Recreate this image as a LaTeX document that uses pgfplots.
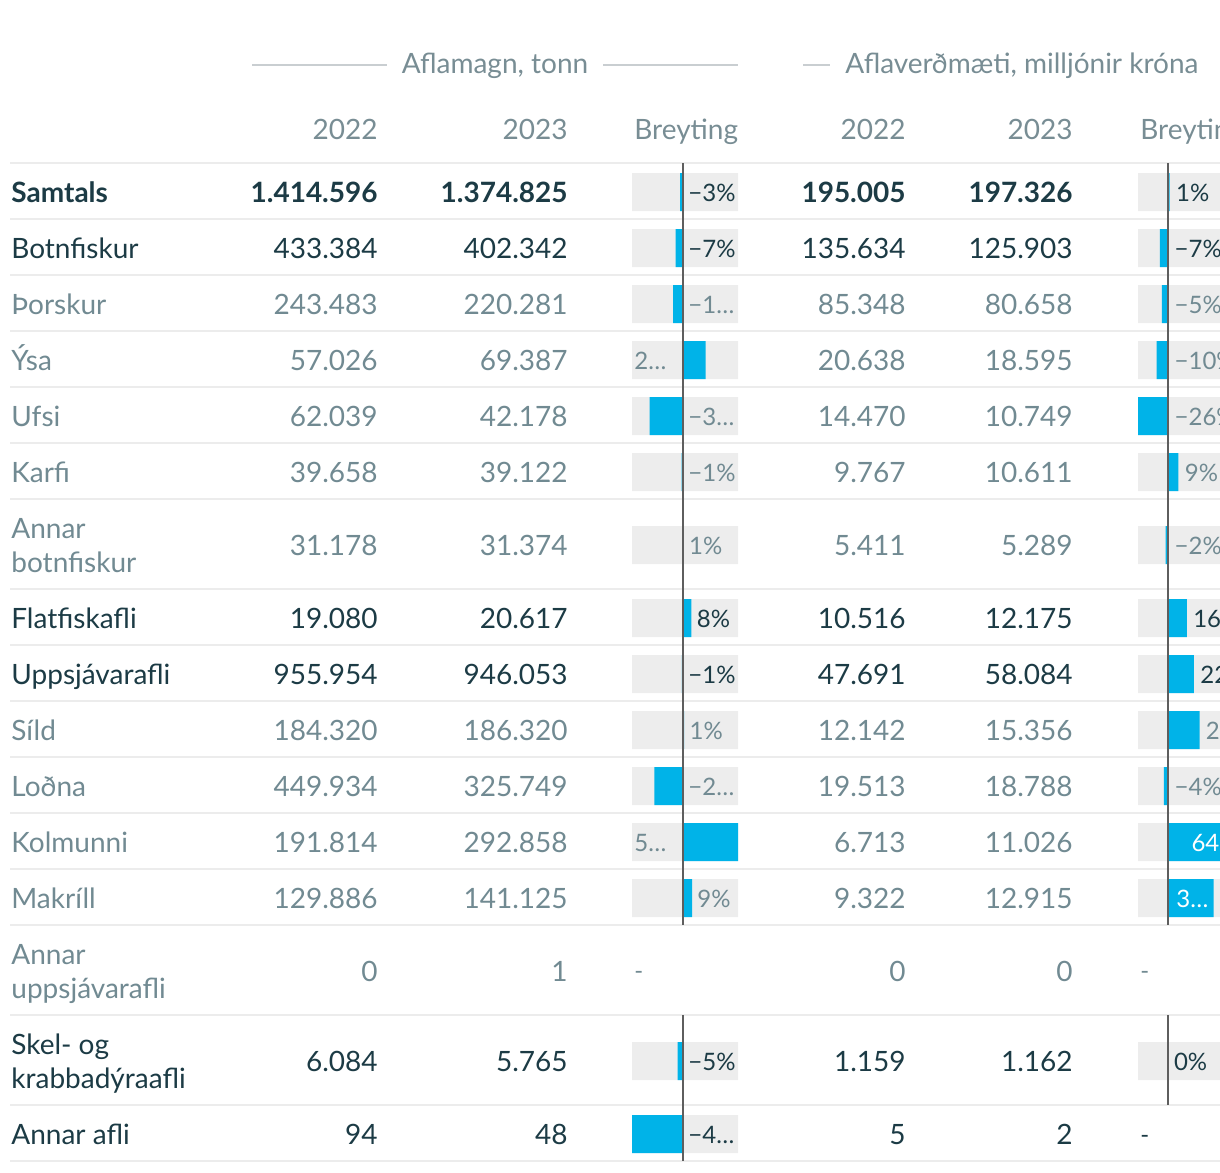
\documentclass[border=0pt]{standalone}
\usepackage{fontspec}
\setmainfont{Lato}
\usepackage{pgfplots}
\pgfplotsset{compat=1.18}
\definecolor{dark}{HTML}{1C3B45}
\definecolor{gry}{HTML}{718A92}
\definecolor{hdr}{HTML}{788D94}
\definecolor{sep}{HTML}{ECECEC}
\definecolor{hline}{HTML}{C9CED1}
\definecolor{bg}{HTML}{EDEDED}
\definecolor{barblue}{HTML}{00B3E8}
\definecolor{zero}{HTML}{5E5E5E}
\newcommand{\ftext}{\fontsize{14pt}{17pt}\selectfont}
\newcommand{\fsmall}{\fontsize{12pt}{14pt}\selectfont}
% #1 baseline, #2 colour, #3 font switch, #4 label, #5..#8 numbers
\newcommand{\row}[8]{%
  \node[anchor=base west,inner sep=0,text=#2,font=\ftext#3] at (axis cs:11,#1) {#4};
  \node[anchor=base east,inner sep=0,text=#2,font=\ftext#3] at (axis cs:378,#1) {#5};
  \node[anchor=base east,inner sep=0,text=#2,font=\ftext#3] at (axis cs:568,#1) {#6};
  \node[anchor=base east,inner sep=0,text=#2,font=\ftext#3] at (axis cs:906,#1) {#7};
  \node[anchor=base east,inner sep=0,text=#2,font=\ftext#3] at (axis cs:1073,#1) {#8};
}
\pgfplotsset{
  tablecell/.style={scale only axis,hide axis,clip=false,ymin=0,ymax=1172,y dir=reverse,height=586pt,anchor=south west},
  bgbar/.style={xbar,bar shift=0pt,bar width=19pt,fill=bg,draw=none},
  valbar/.style={xbar,bar shift=0pt,bar width=19pt,fill=barblue,draw=none},
}
\begin{document}
\begin{tikzpicture}
\path[use as bounding box] (0,0) rectangle (610pt,586pt);
\clip (0,0) rectangle (610pt,586pt);
% ---------------- main table text ----------------
\begin{axis}[tablecell,at={(0pt,0pt)},width=610pt,xmin=0,xmax=1220]
\pgfplotsinvokeforeach{163,219,275,331,387,443,499,589,645,701,757,813,869,925,1015,1105,1161}{
  \draw[sep,line width=1pt] (axis cs:10,#1) -- (axis cs:1220,#1);
}
% group headers
\draw[hline,line width=0.8pt] (axis cs:252,65) -- (axis cs:387,65);
\draw[hline,line width=0.8pt] (axis cs:603,65) -- (axis cs:738,65);
\node[anchor=base,inner sep=0,text=hdr,font=\ftext] at (axis cs:495,74) {Aflamagn, tonn};
\draw[hline,line width=0.8pt] (axis cs:803,65) -- (axis cs:830,65);
\node[anchor=base west,inner sep=0,text=hdr,font=\ftext] at (axis cs:845,74) {Aflaverðmæti, milljónir króna};
% column headers
\node[anchor=base east,inner sep=0,text=hdr,font=\ftext] at (axis cs:378,140) {2022};
\node[anchor=base east,inner sep=0,text=hdr,font=\ftext] at (axis cs:568,140) {2023};
\node[anchor=base west,inner sep=0,text=hdr,font=\ftext] at (axis cs:634,140) {Breyting};
\node[anchor=base east,inner sep=0,text=hdr,font=\ftext] at (axis cs:906,140) {2022};
\node[anchor=base east,inner sep=0,text=hdr,font=\ftext] at (axis cs:1073,140) {2023};
\node[anchor=base west,inner sep=0,text=hdr,font=\ftext] at (axis cs:1140,140) {Breyting};
% rows
\row{202}{dark}{\bfseries}{Samtals}{1.414.596}{1.374.825}{195.005}{197.326}
\row{258}{dark}{}{Botnfiskur}{433.384}{402.342}{135.634}{125.903}
\row{314}{gry}{}{Þorskur}{243.483}{220.281}{85.348}{80.658}
\row{370}{gry}{}{Ýsa}{57.026}{69.387}{20.638}{18.595}
\row{426}{gry}{}{Ufsi}{62.039}{42.178}{14.470}{10.749}
\row{482}{gry}{}{Karfi}{39.658}{39.122}{9.767}{10.611}
\row{555}{gry}{}{}{31.178}{31.374}{5.411}{5.289}
\node[anchor=base west,inner sep=0,text=gry,font=\ftext] at (axis cs:11,538) {Annar};
\node[anchor=base west,inner sep=0,text=gry,font=\ftext] at (axis cs:11,572) {botnfiskur};
\row{628}{dark}{}{Flatfiskafli}{19.080}{20.617}{10.516}{12.175}
\row{684}{dark}{}{Uppsjávarafli}{955.954}{946.053}{47.691}{58.084}
\row{740}{gry}{}{Síld}{184.320}{186.320}{12.142}{15.356}
\row{796}{gry}{}{Loðna}{449.934}{325.749}{19.513}{18.788}
\row{852}{gry}{}{Kolmunni}{191.814}{292.858}{6.713}{11.026}
\row{908}{gry}{}{Makríll}{129.886}{141.125}{9.322}{12.915}
\row{981}{gry}{}{}{0}{1}{0}{0}
\node[anchor=base west,inner sep=0,text=gry,font=\ftext] at (axis cs:11,964) {Annar};
\node[anchor=base west,inner sep=0,text=gry,font=\ftext] at (axis cs:11,998) {uppsjávarafli};
\row{1071}{dark}{}{}{6.084}{5.765}{1.159}{1.162}
\node[anchor=base west,inner sep=0,text=dark,font=\ftext] at (axis cs:11,1054) {Skel- og};
\node[anchor=base west,inner sep=0,text=dark,font=\ftext] at (axis cs:11,1088) {krabbadýraafli};
\row{1144}{dark}{}{Annar afli}{94}{48}{5}{2}
\end{axis}
% ---------------- Breyting: Aflamagn ----------------
\begin{axis}[tablecell,at={(316pt,0pt)},width=53pt,xmin=-48.94,xmax=52.68]
\addplot[bgbar] coordinates {(52.68,192) (52.68,248) (52.68,304) (52.68,360) (52.68,416) (52.68,472) (52.68,545) (52.68,618) (52.68,674) (52.68,730) (52.68,786) (52.68,842) (52.68,898) (52.68,1061) (52.68,1134)};
\addplot[bgbar] coordinates {(-48.94,192) (-48.94,248) (-48.94,304) (-48.94,360) (-48.94,416) (-48.94,472) (-48.94,545) (-48.94,618) (-48.94,674) (-48.94,730) (-48.94,786) (-48.94,842) (-48.94,898) (-48.94,1061) (-48.94,1134)};
\addplot[valbar] coordinates {(-2.81,192) (-7.16,248) (-9.53,304) (21.68,360) (-32.01,416) (-1.35,472) (0.63,545) (8.06,618) (-1.04,674) (1.09,730) (-27.60,786) (52.68,842) (8.65,898) (-5.24,1061) (-48.94,1134)};
\draw[zero,line width=1pt] (axis cs:0,163) -- (axis cs:0,925);
\draw[zero,line width=1pt] (axis cs:0,1015) -- (axis cs:0,1161);
\begin{scope}[every node/.style={inner sep=0,font=\fsmall}]
\node[anchor=base west,text=dark,xshift=2.5pt] at (axis cs:0,201) {−3\%};
\node[anchor=base west,text=dark,xshift=2.5pt] at (axis cs:0,257) {−7\%};
\node[anchor=base west,text=gry,xshift=2.5pt] at (axis cs:0,313) {−1…};
\node[anchor=base west,text=gry,xshift=1pt] at (axis cs:-48.94,369) {2…};
\node[anchor=base west,text=gry,xshift=2.5pt] at (axis cs:0,425) {−3…};
\node[anchor=base west,text=gry,xshift=2.5pt] at (axis cs:0,481) {−1\%};
\node[anchor=base west,text=gry,xshift=2.5pt] at (axis cs:0.63,554) {1\%};
\node[anchor=base west,text=dark,xshift=2.5pt] at (axis cs:8.06,627) {8\%};
\node[anchor=base west,text=dark,xshift=2.5pt] at (axis cs:0,683) {−1\%};
\node[anchor=base west,text=gry,xshift=2.5pt] at (axis cs:1.09,739) {1\%};
\node[anchor=base west,text=gry,xshift=2.5pt] at (axis cs:0,795) {−2…};
\node[anchor=base west,text=gry,xshift=1pt] at (axis cs:-48.94,851) {5…};
\node[anchor=base west,text=gry,xshift=2.5pt] at (axis cs:8.65,907) {9\%};
\node[anchor=base west,text=gry,xshift=1pt] at (axis cs:-48.94,979) {-};
\node[anchor=base west,text=dark,xshift=2.5pt] at (axis cs:0,1070) {−5\%};
\node[anchor=base west,text=dark,xshift=2.5pt] at (axis cs:0,1143) {−4…};
\end{scope}
\end{axis}
% ---------------- Breyting: Aflaverðmæti ----------------
\begin{axis}[tablecell,at={(569pt,0pt)},width=53pt,xmin=-25.71,xmax=64.25]
\addplot[bgbar] coordinates {(64.25,192) (64.25,248) (64.25,304) (64.25,360) (64.25,416) (64.25,472) (64.25,545) (64.25,618) (64.25,674) (64.25,730) (64.25,786) (64.25,842) (64.25,898) (64.25,1061)};
\addplot[bgbar] coordinates {(-25.71,192) (-25.71,248) (-25.71,304) (-25.71,360) (-25.71,416) (-25.71,472) (-25.71,545) (-25.71,618) (-25.71,674) (-25.71,730) (-25.71,786) (-25.71,842) (-25.71,898) (-25.71,1061)};
\addplot[valbar] coordinates {(1.19,192) (-7.17,248) (-5.50,304) (-9.90,360) (-25.71,416) (8.64,472) (-2.25,545) (15.78,618) (21.79,674) (26.47,730) (-3.72,786) (64.25,842) (38.54,898) (0.26,1061)};
\draw[zero,line width=1pt] (axis cs:0,163) -- (axis cs:0,925);
\draw[zero,line width=1pt] (axis cs:0,1015) -- (axis cs:0,1105);
\begin{scope}[every node/.style={inner sep=0,font=\fsmall}]
\node[anchor=base west,text=dark,xshift=3pt] at (axis cs:1.19,201) {1\%};
\node[anchor=base west,text=dark,xshift=3pt] at (axis cs:0,257) {−7\%};
\node[anchor=base west,text=gry,xshift=3pt] at (axis cs:0,313) {−5\%};
\node[anchor=base west,text=gry,xshift=3pt] at (axis cs:0,369) {−10\%};
\node[anchor=base west,text=gry,xshift=3pt] at (axis cs:0,425) {−26\%};
\node[anchor=base west,text=gry,xshift=3pt] at (axis cs:8.64,481) {9\%};
\node[anchor=base west,text=gry,xshift=3pt] at (axis cs:0,554) {−2\%};
\node[anchor=base west,text=dark,xshift=3pt] at (axis cs:15.78,627) {16\%};
\node[anchor=base west,text=dark,xshift=3pt] at (axis cs:21.79,683) {22\%};
\node[anchor=base west,text=gry,xshift=3pt] at (axis cs:26.47,739) {26\%};
\node[anchor=base west,text=gry,xshift=3pt] at (axis cs:0,795) {−4\%};
\node[anchor=base east,text=white,xshift=-2.5pt] at (axis cs:64.25,851) {64\%};
\node[anchor=base east,text=white,xshift=-2.5pt] at (axis cs:38.54,907) {3…};
\node[anchor=base west,text=gry,xshift=1pt] at (axis cs:-25.71,979) {-};
\node[anchor=base west,text=dark,xshift=2.5pt] at (axis cs:0.26,1070) {0\%};
\node[anchor=base west,text=dark,xshift=1pt] at (axis cs:-25.71,1143) {-};
\end{scope}
\end{axis}
\end{tikzpicture}
\end{document}
